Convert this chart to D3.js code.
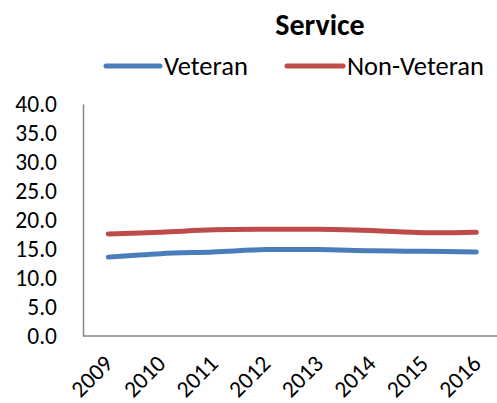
<!DOCTYPE html>
<html>
<head>
<meta charset="utf-8">
<script src="https://cdn.jsdelivr.net/npm/d3@7"></script>
<style>
  body { margin: 0; background: #fff; }
  svg { display: block; }
</style>
</head>
<body>
<svg></svg>
<script>
const width = 497;
const height = 403;

const years = ["2009", "2010", "2011", "2012", "2013", "2014", "2015", "2016"];
const veteran = [13.6, 14.2, 14.5, 14.9, 14.9, 14.7, 14.6, 14.5];
const nonVeteran = [17.6, 17.9, 18.3, 18.4, 18.4, 18.2, 17.8, 17.9];
const yTicks = [0, 5, 10, 15, 20, 25, 30, 35, 40];

const series = [
  { name: "Veteran", values: veteran, color: "#4a7ebb" },
  { name: "Non-Veteran", values: nonVeteran, color: "#be4b48" }
];

const font = "Carlito, Calibri, 'Liberation Sans', Arial, sans-serif";

const svg = d3.select("svg")
  .attr("width", width)
  .attr("height", height);

const x = d3.scaleBand()
  .domain(years)
  .range([82, 502.6]);

const y = d3.scaleLinear()
  .domain([0, 40])
  .range([336, 104]);

const cx = d => x(d) + x.bandwidth() / 2;

// title
svg.append("text")
  .attr("x", 320)
  .attr("y", 35)
  .attr("text-anchor", "middle")
  .attr("font-family", font)
  .attr("font-weight", "bold")
  .attr("font-size", 30)
  .text("Service");

// legend
const legendItems = [
  { s: series[0], x1: 106, x2: 160, tx: 164 },
  { s: series[1], x1: 287, x2: 343, tx: 347 }
];
const legend = svg.append("g");
legend.selectAll("line")
  .data(legendItems)
  .enter().append("line")
    .attr("x1", d => d.x1)
    .attr("x2", d => d.x2)
    .attr("y1", 66)
    .attr("y2", 66)
    .attr("stroke", d => d.s.color)
    .attr("stroke-width", 5)
    .attr("stroke-linecap", "round");
legend.selectAll("text")
  .data(legendItems)
  .enter().append("text")
    .attr("x", d => d.tx)
    .attr("y", 75)
    .attr("font-family", font)
    .attr("font-size", 26.5)
    .attr("fill", "#000")
    .text(d => d.s.name);

// y axis
const yAxis = svg.append("g")
  .attr("transform", "translate(83,0)")
  .call(d3.axisLeft(y).tickValues(yTicks).tickSize(0).tickPadding(26).tickFormat(d3.format(".1f")));
yAxis.select(".domain").attr("stroke", "#868686").attr("stroke-width", 1.5);
yAxis.selectAll("text")
  .attr("font-family", font)
  .attr("font-size", 23.5)
  .attr("fill", "#000");

// x axis
const xAxis = svg.append("g")
  .attr("transform", "translate(0,336)")
  .call(d3.axisBottom(x).tickSize(0).tickFormat(d => d));
xAxis.select(".domain")
  .attr("d", "M83,0H" + width)
  .attr("stroke", "#868686")
  .attr("stroke-width", 1.5);
xAxis.selectAll("text")
  .attr("font-family", font)
  .attr("font-size", 23.5)
  .attr("fill", "#000")
  .attr("text-anchor", "end")
  .attr("dy", 0)
  .attr("y", 0)
  .attr("transform", "translate(6,29) rotate(-45)");

// lines
const line = d3.line()
  .x((v, i) => cx(years[i]))
  .y(v => y(v))
  .curve(d3.curveCatmullRom.alpha(0.5));

svg.append("g")
  .selectAll("path")
  .data(series)
  .enter().append("path")
    .attr("d", d => line(d.values))
    .attr("fill", "none")
    .attr("stroke", d => d.color)
    .attr("stroke-width", 5)
    .attr("stroke-linecap", "round")
    .attr("stroke-linejoin", "round");
</script>
</body>
</html>
